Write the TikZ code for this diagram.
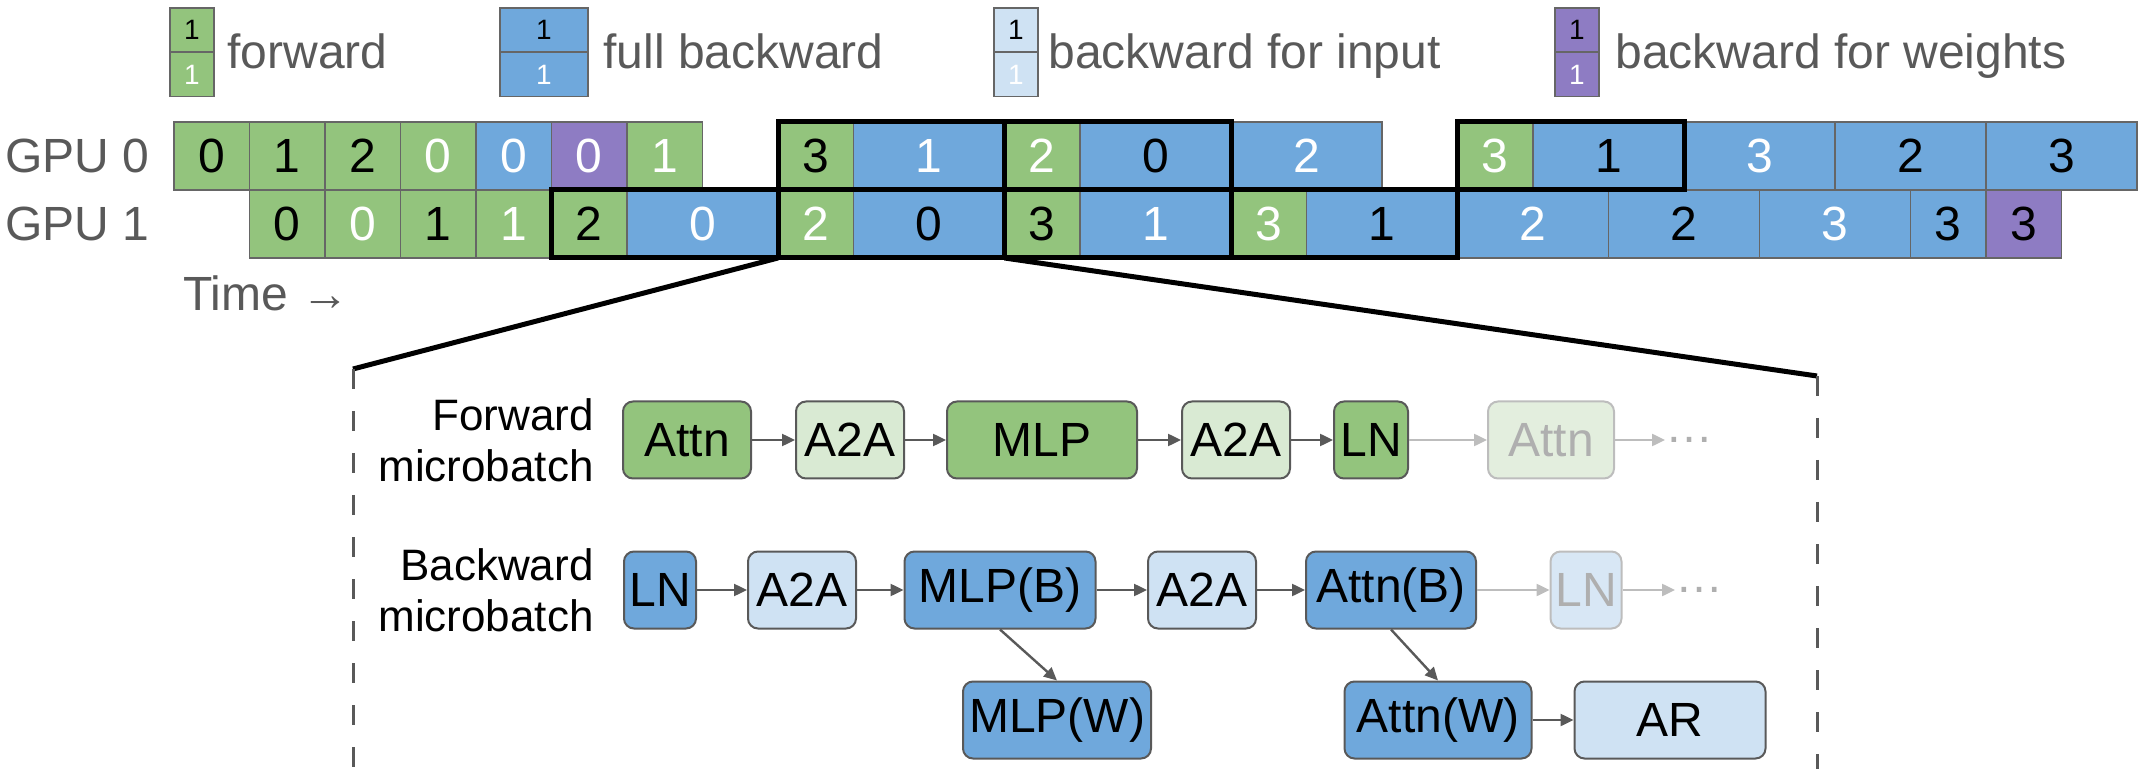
\documentclass[tikz,border=0pt]{standalone}
\usepackage{fontspec}
\setmainfont{Liberation Sans}
\usetikzlibrary{arrows.meta}
\definecolor{gfw}{HTML}{93C47D}
\definecolor{gbw}{HTML}{6FA8DC}
\definecolor{glb}{HTML}{CFE2F3}
\definecolor{glg}{HTML}{D9EAD3}
\definecolor{gpu}{HTML}{8E7CC3}
\definecolor{gbd}{HTML}{666666}
\definecolor{gtx}{HTML}{595959}
\definecolor{fadeg}{HTML}{E3EEDE}
\definecolor{fadeb}{HTML}{D8E7F5}
\definecolor{fadet}{HTML}{AFAFAF}
\definecolor{fadel}{HTML}{BDBDBD}
\newcommand\bigf{\fontsize{24}{26}\selectfont}
\newcommand\labf{\fontsize{22}{25.5}\selectfont}
\newcommand\smallf{\fontsize{14}{15}\selectfont}
\newcommand\mycell[5]{%
  \pgfmathsetmacro\mcx{174+(#2+#3)/2*75.5}%
  \pgfmathsetmacro\mcw{(#3-#2)*75.5*0.5}%
  \pgfmathsetmacro\mcy{156+68*#1}%
  \node[cell,#4,minimum width=\mcw pt] (p#1s#2) at (\mcx,\mcy) {#5};}
\tikzset{
  cell/.style={draw=gbd, line width=0.75pt, minimum height=34pt, inner sep=0pt, outer sep=0pt, font=\bigf},
  fk/.style={fill=gfw, text=black},
  fwh/.style={fill=gfw, text=white},
  bk/.style={fill=gbw, text=black},
  bwh/.style={fill=gbw, text=white},
  wk/.style={fill=gpu, text=black},
  wwh/.style={fill=gpu, text=white},
  pair/.style={draw=black, line width=2.5pt},
  zoomline/.style={draw=black, line width=2.5pt},
  dashline/.style={draw=gtx, line width=1.5pt, dash pattern=on 10pt off 11pt},
  leg/.style={draw=gbd, line width=0.75pt, minimum height=22pt, inner sep=0pt, outer sep=0pt, font=\smallf},
  legtext/.style={anchor=base west, inner sep=0pt, text=gtx, font=\bigf},
  op/.style={draw=gtx, line width=1pt, rounded corners=5pt, minimum height=38.5pt, inner sep=0pt, font=\bigf},
  opf/.style={op, fill=gfw},
  opa/.style={op, fill=glg},
  opb/.style={op, fill=gbw},
  opl/.style={op, fill=glb},
  opfadeg/.style={op, fill=fadeg, draw=fadel, text=fadet},
  opfadeb/.style={op, fill=fadeb, draw=fadel, text=fadet},
  arr/.style={draw=gtx, line width=1.2pt, -{Triangle[length=6.5pt,width=6pt]}},
  arrfade/.style={draw=fadel, line width=1.2pt, -{Triangle[length=6.5pt,width=6pt]}},
}
\begin{document}
\begin{tikzpicture}[x=0.5pt,y=-0.5pt]
\useasboundingbox (0,0) rectangle (2145,769);
% legend
\node[leg, fk, minimum width=22pt] (l1a) at (192,30) {1};
\node[leg, fwh, minimum width=22pt] (l1b) at (192,74.5) {1};
\node[legtext] (l1t) at (227,69) {forward};
\node[leg, bk, minimum width=44pt] (l2a) at (544,30) {1};
\node[leg, bwh, minimum width=44pt] (l2b) at (544,74.5) {1};
\node[legtext] (l2t) at (603,69) {full backward};
\node[leg, fill=glb, text=black, minimum width=22pt] (l3a) at (1016,30) {1};
\node[leg, fill=glb, text=white, minimum width=22pt] (l3b) at (1016,74.5) {1};
\node[legtext] (l3t) at (1048,69) {backward for input};
\node[leg, wk, minimum width=22pt] (l4a) at (1577,30) {1};
\node[leg, wwh, minimum width=22pt] (l4b) at (1577,74.5) {1};
\node[legtext] (l4t) at (1615,69) {backward for weights};
% GPU labels
\node[legtext] (gpu0) at (5,173) {GPU 0};
\node[legtext] (gpu1) at (5,241) {GPU 1};
\node[legtext] (time) at (183,311) {Time →};
% GPU 0 row
\mycell{0}{0}{1}{fk}{0}
\mycell{0}{1}{2}{fk}{1}
\mycell{0}{2}{3}{fk}{2}
\mycell{0}{3}{4}{fwh}{0}
\mycell{0}{4}{5}{bwh}{0}
\mycell{0}{5}{6}{wwh}{0}
\mycell{0}{6}{7}{fwh}{1}
\mycell{0}{8}{9}{fk}{3}
\mycell{0}{9}{11}{bwh}{1}
\mycell{0}{11}{12}{fwh}{2}
\mycell{0}{12}{14}{bk}{0}
\mycell{0}{14}{16}{bwh}{2}
\mycell{0}{17}{18}{fwh}{3}
\mycell{0}{18}{20}{bk}{1}
\mycell{0}{20}{22}{bwh}{3}
\mycell{0}{22}{24}{bk}{2}
\mycell{0}{24}{26}{bk}{3}
% GPU 1 row
\mycell{1}{1}{2}{fk}{0}
\mycell{1}{2}{3}{fwh}{0}
\mycell{1}{3}{4}{fk}{1}
\mycell{1}{4}{5}{fwh}{1}
\mycell{1}{5}{6}{fk}{2}
\mycell{1}{6}{8}{bwh}{0}
\mycell{1}{8}{9}{fwh}{2}
\mycell{1}{9}{11}{bk}{0}
\mycell{1}{11}{12}{fk}{3}
\mycell{1}{12}{14}{bwh}{1}
\mycell{1}{14}{15}{fwh}{3}
\mycell{1}{15}{17}{bk}{1}
\mycell{1}{17}{19}{bwh}{2}
\mycell{1}{19}{21}{bk}{2}
\mycell{1}{21}{23}{bwh}{3}
\mycell{1}{23}{24}{bk}{3}
\mycell{1}{24}{25}{wk}{3}
% pair outlines
\draw[pair] (p0s8.north west) rectangle (p0s9.south east);
\draw[pair] (p0s11.north west) rectangle (p0s12.south east);
\draw[pair] (p0s17.north west) rectangle (p0s18.south east);
\draw[pair] (p1s5.north west) rectangle (p1s6.south east);
\draw[pair] (p1s8.north west) rectangle (p1s9.south east);
\draw[pair] (p1s11.north west) rectangle (p1s12.south east);
\draw[pair] (p1s14.north west) rectangle (p1s15.south east);
% zoom lines
\coordinate (zl) at (353,369);
\coordinate (zr) at (1817,376);
\coordinate (zlb) at (353,769);
\coordinate (zrb) at (1817,769);
\draw[zoomline] (p1s8.south west) -- (zl);
\draw[zoomline] (p1s9.south east) -- (zr);
\draw[dashline] (zl) -- (zlb);
\draw[dashline] (zr) -- (zrb);
% forward microbatch
\node[anchor=east, align=right, font=\labf, inner sep=0pt] (flab) at (594,440) {Forward\\microbatch};
\node[opf, minimum width=64pt] (fattn) at (687,440) {Attn};
\node[opa, minimum width=54pt] (fa2a) at (850,440) {A2A};
\node[opf, minimum width=95pt] (fmlp) at (1042,440) {MLP};
\node[opa, minimum width=54pt] (fa2b) at (1236,440) {A2A};
\node[opf, minimum width=37pt] (fln) at (1371,440) {LN};
\node[opfadeg, minimum width=63pt] (fattn2) at (1551,440) {Attn};
\node[text=fadet, font=\bigf, inner sep=0pt, anchor=west] (fdots) at (1665,440) {…};
\draw[arr] (fattn) -- (fa2a);
\draw[arr] (fa2a) -- (fmlp);
\draw[arr] (fmlp) -- (fa2b);
\draw[arr] (fa2b) -- (fln);
\draw[arrfade] (fln) -- (fattn2);
\draw[arrfade] (fattn2) -- (fdots);
% backward microbatch
\node[anchor=east, align=right, font=\labf, inner sep=0pt] (blab) at (594,590) {Backward\\microbatch};
\node[opb, minimum width=36pt] (bln) at (660,590) {LN};
\node[opl, minimum width=54pt] (ba2a) at (802,590) {A2A};
\node[opb, minimum width=95.5pt] (bmlp) at (1000,590) {MLP(B)};
\node[opl, minimum width=54pt] (ba2b) at (1202,590) {A2A};
\node[opb, minimum width=85pt] (battn) at (1391,590) {Attn(B)};
\node[opfadeb, minimum width=35.5pt] (bln2) at (1586,590) {LN};
\node[text=fadet, font=\bigf, inner sep=0pt, anchor=west] (bdots) at (1675,590) {…};
\node[opb, minimum width=94pt] (mlpw) at (1057,720) {MLP(W)};
\node[opb, minimum width=93.5pt] (attnw) at (1438,720) {Attn(W)};
\node[opl, minimum width=95.5pt] (ar) at (1670,720) {AR};
\draw[arr] (bln) -- (ba2a);
\draw[arr] (ba2a) -- (bmlp);
\draw[arr] (bmlp) -- (ba2b);
\draw[arr] (ba2b) -- (battn);
\draw[arrfade] (battn) -- (bln2);
\draw[arrfade] (bln2) -- (bdots);
\draw[arr] (bmlp.south) -- (mlpw.north);
\draw[arr] (battn.south) -- (attnw.north);
\draw[arr] (attnw) -- (ar);
\end{tikzpicture}
\end{document}
